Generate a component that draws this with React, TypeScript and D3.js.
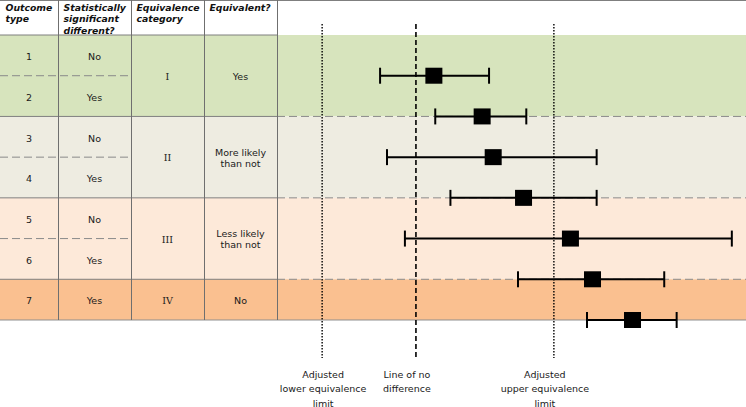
import React, { useRef, useEffect } from 'react';
import * as d3 from 'd3';

// table columns
const outcomeTypes = ['1', '2', '3', '4', '5', '6', '7'];
const significantDiff = ['No', 'Yes', 'No', 'Yes', 'No', 'Yes', 'Yes'];
const categories = ['I', 'II', 'III', 'IV'];
const categoryOutcomes = [['1', '2'], ['3', '4'], ['5', '6'], ['7']];
const equivalentLabels = [['Yes'], ['More likely', 'than not'], ['Less likely', 'than not'], ['No']];
const headerLabels = [['Outcome', 'type'], ['Statistically', 'significant', 'different?'], ['Equivalence', 'category'], ['Equivalent?']];

// forest plot values (effect units, 0 = no difference)
const estimates = [0.13, 0.48, 0.56, 0.78, 1.12, 1.28, 1.57];
const lowerCI = [-0.26, 0.14, -0.21, 0.25, -0.08, 0.74, 1.24];
const upperCI = [0.53, 0.80, 1.31, 1.31, 2.29, 1.80, 1.89];
const referenceValues = [-0.68, 0, 1.0];
const referenceLabels = [['Adjusted', 'lower equivalence', 'limit'], ['Line of no', 'difference'], ['Adjusted', 'upper equivalence', 'limit']];

const W = 746;
const H = 407;
const FONT = 'Verdana, "DejaVu Sans", sans-serif';
const groupColors = ['#d7e4bd', '#eeece1', '#fde9d9', '#fac090'];
const colEdges = [0, 58, 131, 204, 277];
const headerH = 35;
const tableBottom = 320;

export default function App() {
	const chartRef = useRef<null | HTMLDivElement>(null);

	useEffect(() => {
		if (!chartRef.current) {
			return;
		}
		d3.select(chartRef.current).selectAll('svg').remove();

		const svg = d3.select(chartRef.current)
			.append('svg')
			.attr('width', W)
			.attr('height', H)
			.style('position', 'absolute')
			.style('left', 0)
			.style('top', 0)
			.style('font-family', FONT);

		const y = d3.scaleBand().domain(outcomeTypes).range([headerH, tableBottom]);
		const x = d3.scaleLinear().domain([-1, 2.4]).range([278, 747]);

		const groupTop = (g: number) => y(categoryOutcomes[g][0]);
		const groupBottom = (g: number) => y(categoryOutcomes[g][categoryOutcomes[g].length - 1]) + y.bandwidth();

		// background bands across table and plot
		categories.forEach((c, g) => {
			svg.append('rect')
				.attr('x', 0)
				.attr('y', groupTop(g))
				.attr('width', W)
				.attr('height', groupBottom(g) - groupTop(g))
				.attr('fill', groupColors[g]);
		});

		// dashed lines inside the groups (first two columns)
		categoryOutcomes.forEach(list => {
			list.slice(1).forEach(o => {
				svg.append('line')
					.attr('x1', 0).attr('x2', colEdges[2])
					.attr('y1', y(o)).attr('y2', y(o))
					.attr('stroke', '#8a8a8a')
					.attr('stroke-dasharray', '8,4');
			});
		});

		// group boundaries: solid in table, dashed in plot
		categories.slice(1).forEach((c, i) => {
			const yy = groupTop(i + 1);
			svg.append('line')
				.attr('x1', 0).attr('x2', colEdges[4])
				.attr('y1', yy).attr('y2', yy)
				.attr('stroke', '#7f7f7f');
			svg.append('line')
				.attr('x1', colEdges[4]).attr('x2', W)
				.attr('y1', yy).attr('y2', yy)
				.attr('stroke', '#8a8a8a')
				.attr('stroke-dasharray', '8,4');
		});

		// table grid
		svg.append('line').attr('x1', 0).attr('x2', W).attr('y1', 0.5).attr('y2', 0.5).attr('stroke', '#7f7f7f');
		svg.append('line').attr('x1', 0).attr('x2', colEdges[4]).attr('y1', headerH).attr('y2', headerH).attr('stroke', '#7f7f7f');
		svg.append('line').attr('x1', 0).attr('x2', W).attr('y1', tableBottom).attr('y2', tableBottom).attr('stroke', '#8f8f8f');
		colEdges.slice(1).forEach(cx => {
			svg.append('line')
				.attr('x1', cx + 0.5).attr('x2', cx + 0.5)
				.attr('y1', 0).attr('y2', tableBottom)
				.attr('stroke', '#6f6f6f');
		});

		// header text
		headerLabels.forEach((lines, i) => {
			lines.forEach((t, j) => {
				svg.append('text')
					.attr('x', colEdges[i] + 5.5)
					.attr('y', 10.5 + j * 11.5)
					.attr('font-size', 9.3)
					.attr('font-weight', 'bold')
					.attr('font-style', 'italic')
					.attr('fill', '#111')
					.text(t);
			});
		});

		const colMid = (i: number) => (colEdges[i] + colEdges[i + 1]) / 2;

		// row text
		outcomeTypes.forEach((o, i) => {
			const cy = y(o) + y.bandwidth() / 2 + 1.5;
			svg.append('text').attr('x', colMid(0)).attr('y', cy).attr('dy', '0.35em')
				.attr('text-anchor', 'middle').attr('font-size', 9.5).attr('fill', '#1a1a1a').text(o);
			svg.append('text').attr('x', colMid(1)).attr('y', cy).attr('dy', '0.35em')
				.attr('text-anchor', 'middle').attr('font-size', 9.5).attr('fill', '#1a1a1a').text(significantDiff[i]);
		});

		// group text
		categories.forEach((c, g) => {
			const cy = (groupTop(g) + groupBottom(g)) / 2 + 1;
			svg.append('text').attr('x', colMid(2)).attr('y', cy).attr('dy', '0.35em')
				.attr('text-anchor', 'middle').attr('font-size', 9.5).attr('fill', '#1a1a1a')
				.attr('font-family', 'Georgia, "DejaVu Serif", serif').text(c);
			const lines = equivalentLabels[g];
			lines.forEach((t, j) => {
				svg.append('text')
					.attr('x', colMid(3))
					.attr('y', cy + (j - (lines.length - 1) / 2) * 11)
					.attr('dy', '0.35em')
					.attr('text-anchor', 'middle').attr('font-size', 9.5).attr('fill', '#1a1a1a')
					.text(t);
			});
		});

		// reference lines
		const refStyles = ['1.5,1.5', '5,3', '1.5,1.5'];
		const labelOffsets = [1, -9, -9];
		referenceValues.forEach((v, i) => {
			svg.append('line')
				.attr('x1', x(v)).attr('x2', x(v))
				.attr('y1', 24).attr('y2', 358)
				.attr('stroke', '#000')
				.attr('stroke-width', i === 1 ? 1.6 : 1.4)
				.attr('stroke-dasharray', refStyles[i]);
			referenceLabels[i].forEach((t, j) => {
				svg.append('text')
					.attr('x', x(v) + labelOffsets[i])
					.attr('y', 377.5 + j * 14.5)
					.attr('text-anchor', 'middle')
					.attr('font-size', 9.5)
					.attr('fill', '#1a1a1a')
					.text(t);
			});
		});

		// confidence intervals and estimates
		outcomeTypes.forEach((o, i) => {
			const cy = y(o) + y.bandwidth();
			const g = svg.append('g');
			g.append('line')
				.attr('x1', x(lowerCI[i])).attr('x2', x(upperCI[i]))
				.attr('y1', cy).attr('y2', cy)
				.attr('stroke', '#000').attr('stroke-width', 2);
			[lowerCI[i], upperCI[i]].forEach(v => {
				g.append('line')
					.attr('x1', x(v)).attr('x2', x(v))
					.attr('y1', cy - 8).attr('y2', cy + 8)
					.attr('stroke', '#000').attr('stroke-width', 2);
			});
			g.append('rect')
				.attr('x', x(estimates[i]) - 8.5)
				.attr('y', cy - 8)
				.attr('width', 17)
				.attr('height', 16)
				.attr('fill', '#000');
		});
	}, []);

	return <div ref={chartRef}></div>;
}
